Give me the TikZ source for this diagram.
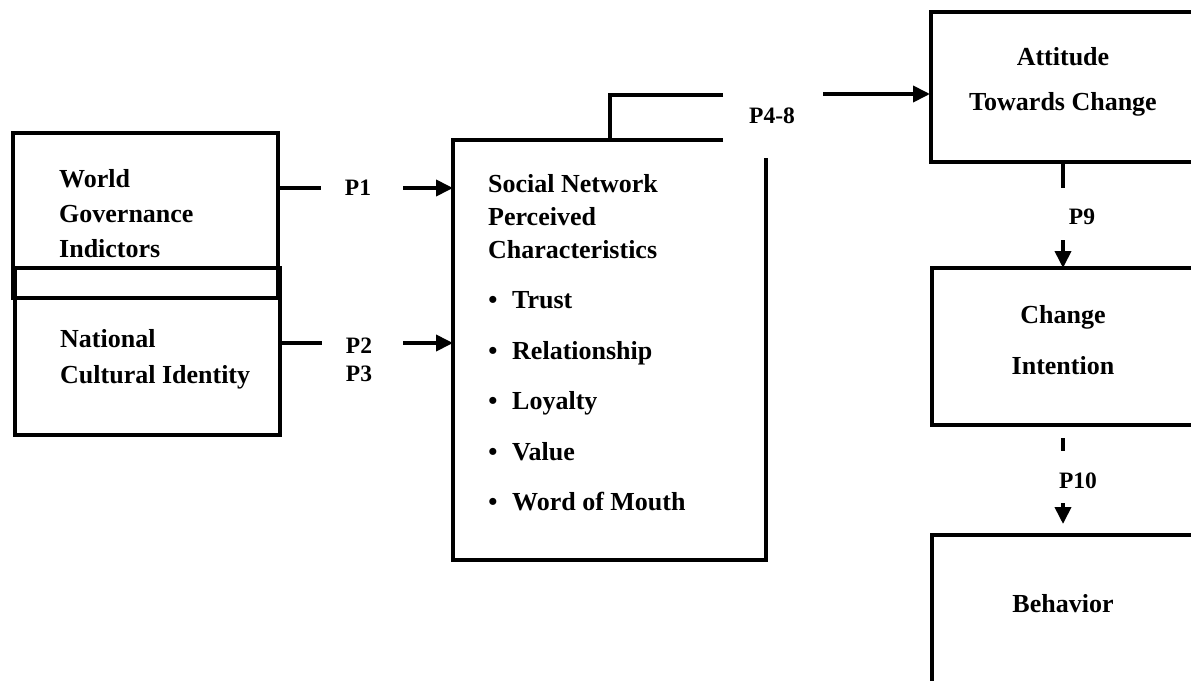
\documentclass[tikz,border=0pt]{standalone}
\usepackage{fontspec}
\setmainfont{Liberation Serif}
\usetikzlibrary{arrows.meta}
\tikzset{
  ln/.style={line width=3.8pt},
  box/.style={line width=3.8pt},
  arr/.style={line width=3.8pt, -{Triangle[length=17pt,width=16pt]}},
  txt/.style={font=\fontsize{26}{30}\bfseries\selectfont, inner sep=0pt},
  lbl/.style={font=\fontsize{23.5}{28}\bfseries\selectfont, inner sep=0pt},
}
\begin{document}
\begin{tikzpicture}[x=1pt,y=-1pt]
\useasboundingbox (0,0) rectangle (1191,680);
\clip (0,0) rectangle (1191,680);
\fill[white] (0,0) rectangle (1191,680);

% left boxes
\draw[box] (13,133) rectangle (278,298);
\draw[box] (15,268) rectangle (280,435);
\node[txt, anchor=base west] (w1) at (59,187) {World};
\node[txt, anchor=base west] (w2) at (59,222) {Governance};
\node[txt, anchor=base west] (w3) at (59,257) {Indictors};
\node[txt, anchor=base west] (n1) at (60,347) {National};
\node[txt, anchor=base west] (n2) at (60,383) {Cultural Identity};

% social network box
\draw[box] (723,140) -- (453,140) -- (453,560) -- (766,560) -- (766,158);
\draw[box] (723,95) -- (610,95) -- (610,142);
\node[txt, anchor=base west] (s1) at (488,192) {Social Network};
\node[txt, anchor=base west] (s2) at (488,225) {Perceived};
\node[txt, anchor=base west] (s3) at (488,258) {Characteristics};
\foreach \t/\yy [count=\i] in {Trust/308, Relationship/359, Loyalty/409, Value/460, Word of Mouth/510}{
  \node[txt, anchor=base] (b\i) at (493,\yy) {•};
  \node[txt, anchor=base west] (bt\i) at (512,\yy) {\t};
}

% right boxes
\draw[box] (1200,12) -- (931,12) -- (931,162) -- (1200,162);
\draw[box] (1200,268) -- (932,268) -- (932,425) -- (1200,425);
\draw[box] (1200,535) -- (932,535) -- (932,700);
\node[txt, anchor=base] (a1) at (1063,65) {Attitude};
\node[txt, anchor=base] (a2) at (1063,110) {Towards Change};
\node[txt, anchor=base] (c1) at (1063,323) {Change};
\node[txt, anchor=base] (c2) at (1063,374) {Intention};
\node[txt, anchor=base] (bh) at (1063,612) {Behavior};

% labels
\node[lbl, anchor=base] (p1) at (358,195) {P1};
\node[lbl, anchor=base] (p2) at (359,353) {P2};
\node[lbl, anchor=base] (p3) at (359,381) {P3};
\node[lbl, anchor=base] (p48) at (772,123) {P4-8};
\node[lbl, anchor=base] (p9) at (1082,224) {P9};
\node[lbl, anchor=base] (p10) at (1078,488) {P10};

% connector coordinates
\coordinate (wgiR) at (280,188);
\coordinate (p1a) at (321,188);
\coordinate (p1b) at (403,188);
\coordinate (snL1) at (453,188);
\coordinate (nciR) at (282,343);
\coordinate (p2a) at (322,343);
\coordinate (p2b) at (403,343);
\coordinate (snL2) at (453,343);
\coordinate (p48a) at (823,94);
\coordinate (attL) at (930,94);
\coordinate (attB) at (1063,162);
\coordinate (p9a) at (1063,188);
\coordinate (p9b) at (1063,240);
\coordinate (chT) at (1063,268);
\coordinate (chB) at (1063,438);
\coordinate (p10a) at (1063,451);
\coordinate (p10b) at (1063,503);
\coordinate (bhT) at (1063,524);

\draw[ln] (wgiR) -- (p1a);
\draw[arr] (p1b) -- (snL1);
\draw[ln] (nciR) -- (p2a);
\draw[arr] (p2b) -- (snL2);
\draw[arr] (p48a) -- (attL);
\draw[ln] (attB) -- (p9a);
\draw[arr] (p9b) -- (chT);
\draw[ln] (chB) -- (p10a);
\draw[arr] (p10b) -- (bhT);
\end{tikzpicture}
\end{document}
